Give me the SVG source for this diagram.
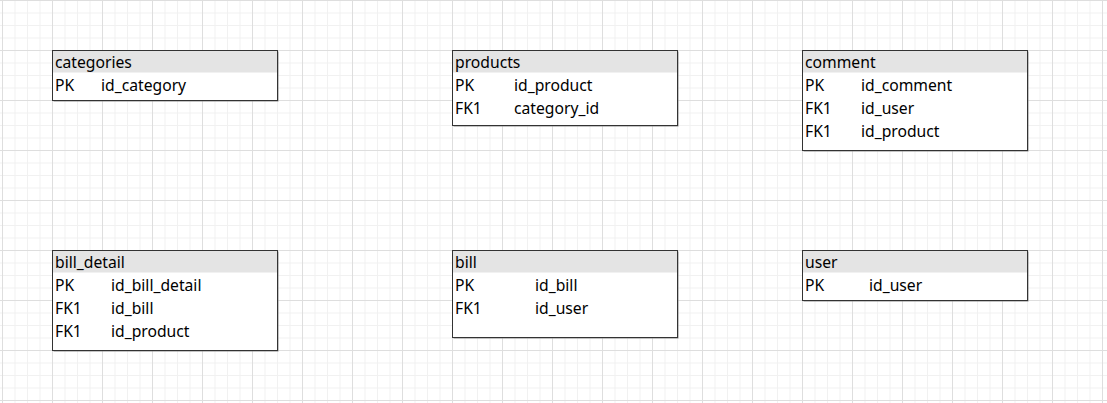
<svg xmlns="http://www.w3.org/2000/svg" width="1107" height="403" viewBox="0 0 1107 403">
<style>
.hdr{fill:#e4e4e4}
.body{fill:#ffffff}
.frame{fill:none;stroke:#333333;stroke-width:1}
.shadow{fill:#8a8a8a}
text{font-family:"Noto Sans","Open Sans",sans-serif;font-size:15.7px;fill:#000000}
</style>
<defs>
<pattern id="grid" x="2" y="0" width="50" height="50" patternUnits="userSpaceOnUse">
<rect width="50" height="50" fill="#ffffff"/>
<path d="M13 0V50M25.5 0V50M38 0V50M0 13H50M0 25.5H50M0 38H50" stroke="#f1f1f1" stroke-width="1" fill="none"/>
<path d="M0.5 0V50M0 0.5H50" stroke="#dedede" stroke-width="1" fill="none"/>
</pattern>
</defs>
<rect width="1107" height="403" fill="url(#grid)"/>
<g id="connectors"></g>
<g id="categories">
<rect class="shadow" x="53.5" y="51.5" width="225" height="50"/>
<rect class="body" x="52.5" y="50.5" width="225" height="50"/>
<rect class="hdr" x="52.5" y="50.5" width="225" height="22"/>
<rect class="frame" x="52.5" y="50.5" width="225" height="50"/>
<text x="55" y="67.5">categories</text>
<text x="55" y="90.5">PK</text><text x="101" y="90.5">id_category</text>
</g>
<g id="products">
<rect class="shadow" x="453.5" y="51.5" width="225" height="75"/>
<rect class="body" x="452.5" y="50.5" width="225" height="75"/>
<rect class="hdr" x="452.5" y="50.5" width="225" height="22"/>
<rect class="frame" x="452.5" y="50.5" width="225" height="75"/>
<text x="455" y="67.5">products</text>
<text x="455" y="90.5">PK</text><text x="514" y="90.5">id_product</text>
<text x="455" y="113.5">FK1</text><text x="514" y="113.5">category_id</text>
</g>
<g id="comment">
<rect class="shadow" x="803.5" y="51.5" width="225" height="100"/>
<rect class="body" x="802.5" y="50.5" width="225" height="100"/>
<rect class="hdr" x="802.5" y="50.5" width="225" height="22"/>
<rect class="frame" x="802.5" y="50.5" width="225" height="100"/>
<text x="805" y="67.5">comment</text>
<text x="805" y="90.5">PK</text><text x="861" y="90.5">id_comment</text>
<text x="805" y="113.5">FK1</text><text x="861" y="113.5">id_user</text>
<text x="805" y="136.5">FK1</text><text x="861" y="136.5">id_product</text>
</g>
<g id="bill_detail">
<rect class="shadow" x="53.5" y="251.5" width="225" height="100"/>
<rect class="body" x="52.5" y="250.5" width="225" height="100"/>
<rect class="hdr" x="52.5" y="250.5" width="225" height="22"/>
<rect class="frame" x="52.5" y="250.5" width="225" height="100"/>
<text x="55" y="267.5">bill_detail</text>
<text x="55" y="290.5">PK</text><text x="111" y="290.5">id_bill_detail</text>
<text x="55" y="313.5">FK1</text><text x="111" y="313.5">id_bill</text>
<text x="55" y="336.5">FK1</text><text x="111" y="336.5">id_product</text>
</g>
<g id="bill">
<rect class="shadow" x="453.5" y="251.5" width="225" height="87"/>
<rect class="body" x="452.5" y="250.5" width="225" height="87"/>
<rect class="hdr" x="452.5" y="250.5" width="225" height="22"/>
<rect class="frame" x="452.5" y="250.5" width="225" height="87"/>
<text x="455" y="267.5">bill</text>
<text x="455" y="290.5">PK</text><text x="535" y="290.5">id_bill</text>
<text x="455" y="313.5">FK1</text><text x="535" y="313.5">id_user</text>
</g>
<g id="user">
<rect class="shadow" x="803.5" y="251.5" width="225" height="50"/>
<rect class="body" x="802.5" y="250.5" width="225" height="50"/>
<rect class="hdr" x="802.5" y="250.5" width="225" height="22"/>
<rect class="frame" x="802.5" y="250.5" width="225" height="50"/>
<text x="805" y="267.5">user</text>
<text x="805" y="290.5">PK</text><text x="869" y="290.5">id_user</text>
</g>
</svg>
